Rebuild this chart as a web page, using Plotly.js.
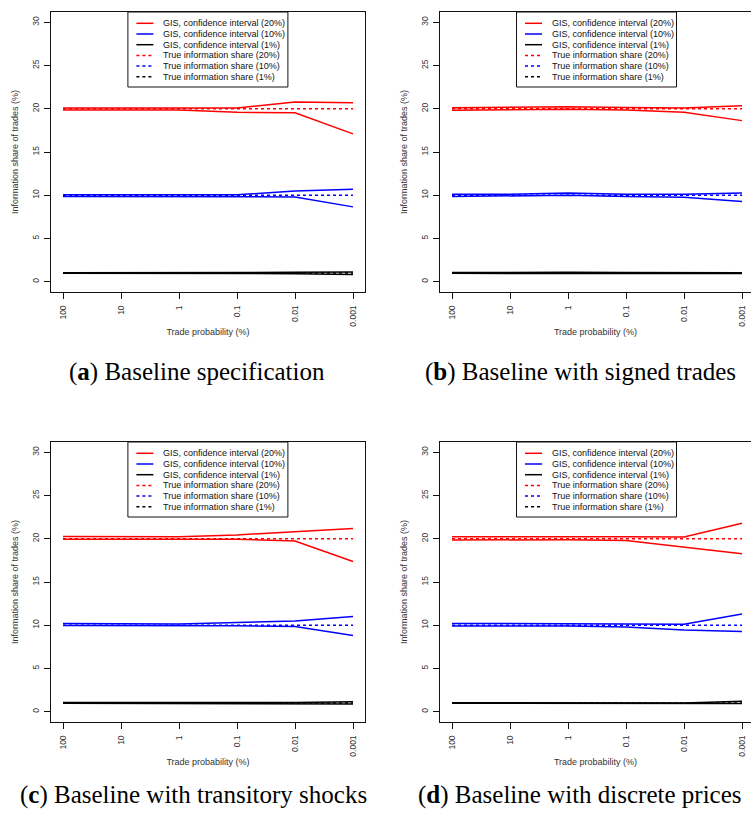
<!DOCTYPE html>
<html>
<head>
<meta charset="utf-8">
<script src="https://cdn.plot.ly/plotly-3.0.1.min.js"></script>
<style>
html,body{margin:0;padding:0;background:#fff;}
#chart{width:751px;height:821px;}
</style>
</head>
<body>
<div id="chart"></div>
<script>
// ---------- data ----------
const tradeProb = ["100", "10", "1", "0.1", "0.01", "0.001"];
const trueShares = [20, 10, 1];
const seriesNames = ["GIS, confidence interval (20%)", "GIS, confidence interval (10%)", "GIS, confidence interval (1%)",
                     "True information share (20%)", "True information share (10%)", "True information share (1%)"];
const captions = ["Baseline specification", "Baseline with signed trades",
                  "Baseline with transitory shocks", "Baseline with discrete prices"];
const captionTags = ["a", "b", "c", "d"];

// (a) Baseline specification
const aRedHi   = [20.1, 20.1, 20.1, 20.1, 20.8, 20.7];
const aRedLo   = [19.85, 19.85, 19.85, 19.6, 19.55, 17.1];
const aBlueHi  = [10.05, 10.05, 10.05, 10.05, 10.5, 10.7];
const aBlueLo  = [9.85, 9.85, 9.85, 9.8, 9.8, 8.65];
const aBlackHi = [1.02, 1.02, 1.02, 1.02, 1.08, 1.12];
const aBlackLo = [0.97, 0.97, 0.97, 0.97, 0.92, 0.82];

// (b) Baseline with signed trades
const bRedHi   = [20.13, 20.15, 20.25, 20.15, 20.1, 20.36];
const bRedLo   = [19.82, 19.9, 19.95, 19.85, 19.6, 18.63];
const bBlueHi  = [10.1, 10.1, 10.25, 10.1, 10.1, 10.25];
const bBlueLo  = [9.85, 9.95, 10.0, 9.85, 9.75, 9.27];
const bBlackHi = [1.05, 1.08, 1.08, 1.05, 1.03, 1.02];
const bBlackLo = [0.96, 0.97, 0.97, 0.96, 0.95, 0.93];

// (c) Baseline with transitory shocks
const cRedHi   = [20.27, 20.27, 20.25, 20.45, 20.85, 21.2];
const cRedLo   = [19.96, 19.95, 19.95, 19.95, 19.73, 17.37];
const cBlueHi  = [10.19, 10.15, 10.15, 10.3, 10.5, 11.0];
const cBlueLo  = [9.96, 9.95, 9.95, 9.95, 9.85, 8.8];
const cBlackHi = [1.05, 1.03, 1.03, 1.05, 1.07, 1.15];
const cBlackLo = [0.98, 0.97, 0.97, 0.98, 0.95, 0.88];

// (d) Baseline with discrete prices
const dRedHi   = [20.23, 20.25, 20.25, 20.23, 20.2, 21.8];
const dRedLo   = [19.85, 19.9, 19.9, 19.8, 19.07, 18.26];
const dBlueHi  = [10.2, 10.2, 10.2, 10.15, 10.1, 11.3];
const dBlueLo  = [9.9, 9.9, 9.9, 9.8, 9.46, 9.27];
const dBlackHi = [1.03, 1.03, 1.03, 1.03, 1.0, 1.2];
const dBlackLo = [0.97, 0.97, 0.97, 0.97, 0.93, 0.95];

const yTicks = [0, 5, 10, 15, 20, 25, 30];

// ---------- styling ----------
const W = 751, H = 821;
const colors = ["#ff0000", "#0000ff", "#000000"];
const LW = 1.5;
const DASH = "3px,3px";

const panelData = [
  [aRedHi, aRedLo, aBlueHi, aBlueLo, aBlackHi, aBlackLo],
  [bRedHi, bRedLo, bBlueHi, bBlueLo, bBlackHi, bBlackLo],
  [cRedHi, cRedLo, cBlueHi, cBlueLo, cBlackHi, cBlackLo],
  [dRedHi, dRedLo, dBlueHi, dBlueLo, dBlackHi, dBlackLo]
];

// panel boxes in pixels: left, right, top, bottom, x-range
const boxes = [
  {l: 51.4, r: 364.6, t: 12, b: 292, xr: [-0.2, 5.2], mirrorY: true},
  {l: 440, r: 751, t: 12, b: 292, xr: [-0.207, 5.155], mirrorY: false},
  {l: 51.4, r: 364.6, t: 442, b: 722, xr: [-0.2, 5.2], mirrorY: true},
  {l: 440, r: 751, t: 442, b: 722, xr: [-0.207, 5.155], mirrorY: false}
];
const captionPos = [{x: 197, y: 372}, {x: 580, y: 372}, {x: 193, y: 795}, {x: 580, y: 795}];

const traces = [];
const shapes = [];
const annotations = [];
const layout = {
  width: W, height: H,
  margin: {l: 0, r: 0, t: 0, b: 0},
  paper_bgcolor: "#ffffff",
  plot_bgcolor: "#ffffff",
  showlegend: false,
  font: {family: "Liberation Sans, Arial, sans-serif", size: 9, color: "#222"}
};

const tickFont = {family: "Liberation Sans, Arial, sans-serif", size: 8.5, color: "#333"};
const titleFont = {family: "Liberation Sans, Arial, sans-serif", size: 9, color: "#333"};

boxes.forEach((bx, p) => {
  const n = p + 1;
  const xa = n === 1 ? "x" : "x" + n;
  const ya = n === 1 ? "y" : "y" + n;
  const xk = n === 1 ? "xaxis" : "xaxis" + n;
  const yk = n === 1 ? "yaxis" : "yaxis" + n;

  const d = panelData[p];
  for (let s = 0; s < 6; s++) {
    traces.push({
      type: "scatter", mode: "lines", x: tradeProb, y: d[s],
      xaxis: xa, yaxis: ya, hoverinfo: "skip",
      name: seriesNames[Math.floor(s / 2)],
      line: {color: colors[Math.floor(s / 2)], width: LW}
    });
  }
  trueShares.forEach((v, k) => {
    traces.push({
      type: "scatter", mode: "lines", x: tradeProb, y: tradeProb.map(() => v),
      xaxis: xa, yaxis: ya, hoverinfo: "skip",
      name: seriesNames[3 + k],
      line: {color: colors[k], width: LW, dash: DASH}
    });
  });

  layout[xk] = {
    domain: [bx.l / W, bx.r / W],
    anchor: ya,
    type: "category",
    categoryorder: "array", categoryarray: tradeProb,
    range: bx.xr,
    showgrid: false, zeroline: false,
    showline: true, mirror: true, linecolor: "#111", linewidth: 1,
    ticks: "outside", ticklen: 6, tickcolor: "#111", tickwidth: 1,
    tickangle: -90, tickfont: tickFont, ticklabelstandoff: 3,
    title: {text: "Trade probability (%)", font: titleFont, standoff: 3},
    fixedrange: true
  };
  layout[yk] = {
    domain: [1 - bx.b / H, 1 - bx.t / H],
    anchor: xa,
    range: [-1.2, 31.2],
    tickvals: yTicks, ticktext: yTicks.map(String),
    showgrid: false, zeroline: false,
    showline: true, mirror: bx.mirrorY, linecolor: "#111", linewidth: 1,
    ticks: "outside", ticklen: 6, tickcolor: "#111", tickwidth: 1,
    tickangle: -90, tickfont: tickFont, ticklabelstandoff: 2,
    title: {text: "Information share of trades (%)", font: titleFont, standoff: 10},
    fixedrange: true
  };

  // manual legend (R-style compact box)
  const pw = bx.r - bx.l, ph = bx.b - bx.t;
  const fx = px => px / pw;
  const fy = py => 1 - py / ph;
  const xref = xa + " domain", yref = ya + " domain";
  shapes.push({type: "rect", xref: xref, yref: yref,
    x0: fx(76.5), x1: fx(236.5), y0: fy(75), y1: fy(0),
    line: {color: "#111", width: 1}, fillcolor: "#ffffff", layer: "above"});
  for (let i = 0; i < 6; i++) {
    const ry = 11.3 + 10.7 * i;
    shapes.push({type: "line", xref: xref, yref: yref,
      x0: fx(85), x1: fx(102), y0: fy(ry), y1: fy(ry),
      line: {color: colors[i % 3], width: LW, dash: i < 3 ? "solid" : DASH}, layer: "above"});
    annotations.push({xref: xref, yref: yref, x: fx(109.5), y: fy(ry),
      xanchor: "left", yanchor: "middle", showarrow: false,
      text: seriesNames[i], font: {family: "Liberation Sans, Arial, sans-serif", size: 9, color: "#111"}});
  }

  // caption
  annotations.push({xref: "paper", yref: "paper",
    x: captionPos[p].x / W, y: 1 - captionPos[p].y / H,
    xanchor: "center", yanchor: "middle", showarrow: false,
    text: "(<b>" + captionTags[p] + "</b>) " + captions[p],
    font: {family: "Liberation Serif, Times New Roman, serif", size: 25, color: "#000"}});
});

layout.shapes = shapes;
layout.annotations = annotations;

Plotly.newPlot("chart", traces, layout, {displayModeBar: false, staticPlot: true});
</script>
</body>
</html>
